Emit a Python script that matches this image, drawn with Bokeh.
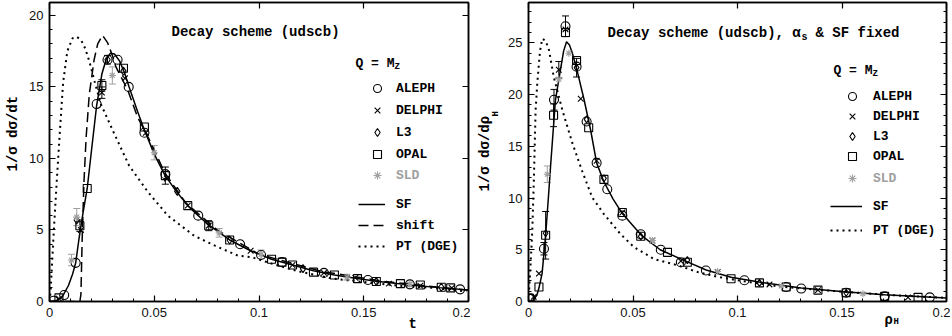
import numpy as np
from bokeh.plotting import figure
from bokeh.layouts import row
from bokeh.models import (Range1d, LinearAxis, FixedTicker, Label, Legend, LegendItem,
                          Whisker, ColumnDataSource, TeeHead, Title)
from bokeh.embed import file_html
from bokeh.resources import INLINE

# ---------------- data: left panel (t) ----------------
t_sf = [0.0, 0.003, 0.006, 0.009, 0.011, 0.0125, 0.014, 0.016, 0.018, 0.020, 0.0225, 0.025, 0.027,
        0.029, 0.031, 0.0335, 0.036, 0.038, 0.042, 0.045, 0.050, 0.055, 0.060, 0.066, 0.071, 0.076,
        0.086, 0.096, 0.106, 0.116, 0.126, 0.136, 0.146, 0.156, 0.166, 0.176, 0.186, 0.2]
y_sf = [0.0, 0.05, 0.3, 1.1, 1.9, 2.7, 4.3, 6.2, 7.9, 10.5, 13.7, 15.9, 16.9,
        17.35, 17.3, 16.8, 15.9, 15.0, 13.3, 12.1, 10.3, 8.85, 7.8, 6.7, 6.0, 5.35,
        4.3, 3.55, 2.95, 2.55, 2.15, 1.85, 1.62, 1.42, 1.25, 1.1, 0.97, 0.8]

t_shift = [0.0, 0.0145, 0.0150, 0.0157, 0.0165, 0.0175, 0.019, 0.0213, 0.023, 0.0253, 0.0277, 0.030,
           0.0317, 0.0345, 0.0373, 0.042, 0.0477, 0.055, 0.065, 0.08, 0.1, 0.13, 0.16, 0.2]
y_shift = [0.0, 0.0, 0.5, 5.0, 8.5, 11.5, 14.5, 16.9, 18.0, 18.6, 18.1, 17.2,
           16.4, 15.6, 14.8, 12.9, 11.3, 9.0, 6.9, 5.0, 3.3, 2.1, 1.4, 0.78]

t_pt = [0.0, 0.0005, 0.002, 0.0035, 0.005, 0.0065, 0.0085, 0.011, 0.013, 0.015, 0.017, 0.019,
        0.0215, 0.0245, 0.031, 0.038, 0.047, 0.0565, 0.069, 0.079, 0.09, 0.0964, 0.106, 0.119,
        0.135, 0.151, 0.167, 0.183, 0.199]
y_pt = [0.0, 0.65, 4.8, 8.5, 12.0, 15.3, 17.5, 18.4, 18.5, 18.3, 17.7, 16.8,
        15.4, 13.8, 11.7, 9.5, 7.65, 6.0, 4.6, 3.9, 3.2, 3.1, 2.65, 2.1,
        1.6, 1.35, 1.1, 0.95, 0.7]

aleph_t = [0.002, 0.007, 0.0125, 0.0225, 0.0277, 0.0325, 0.0378, 0.0453, 0.0553, 0.071, 0.091,
           0.101, 0.111, 0.131, 0.152, 0.172, 0.196]
aleph_y = [0.05, 0.45, 2.7, 13.8, 16.9, 16.9, 15.0, 11.8, 8.9, 6.0, 4.0, 3.25, 2.75, 2.0, 1.5, 1.2, 0.85]
aleph_e = [0, 0, 0, 0, 0.3, 0, 0, 0, 0, 0, 0, 0, 0, 0, 0, 0, 0]

delphi_t = [0.0045, 0.015, 0.025, 0.036, 0.046, 0.056, 0.066, 0.076, 0.096, 0.116, 0.131, 0.146,
            0.162, 0.177, 0.192]
delphi_y = [0.2, 5.0, 14.6, 15.6, 11.8, 8.6, 6.7, 5.3, 3.55, 2.55, 2.0, 1.65, 1.25, 1.1, 0.95]
delphi_e = [0, 0, 0.4, 0, 0, 0, 0, 0, 0, 0, 0, 0, 0, 0, 0]

l3_t = [0.013, 0.0277, 0.0353, 0.061, 0.086, 0.121, 0.156, 0.187]
l3_y = [5.7, 16.9, 16.1, 7.7, 4.3, 2.3, 1.4, 1.0]
l3_e = [0, 0, 0, 0, 0, 0, 0, 0]

opal_t = [0.0045, 0.0145, 0.018, 0.025, 0.0353, 0.0453, 0.0553, 0.066, 0.076, 0.086, 0.106, 0.111,
          0.116, 0.126, 0.136, 0.147, 0.156, 0.1675, 0.177, 0.187, 0.1915]
opal_y = [0.25, 5.3, 7.9, 15.1, 16.3, 12.2, 8.8, 6.7, 5.3, 4.3, 2.95, 2.75,
          2.55, 2.05, 1.85, 1.6, 1.4, 1.25, 1.15, 1.0, 0.95]
opal_e = [0, 0.4, 0, 0.4, 0, 0, 0.6, 0, 0.35, 0, 0, 0, 0, 0, 0, 0, 0, 0, 0, 0, 0]

sld_t = [0.0105, 0.013, 0.030, 0.050, 0.081, 0.101, 0.142, 0.172]
sld_y = [2.9, 5.9, 15.8, 10.4, 4.8, 3.3, 1.7, 1.2]
sld_e = [0.4, 0.6, 0.6, 0.5, 0.3, 0.3, 0.2, 0.15]

# ---------------- data: right panel (rho_H) ----------------
r_sf = [0.0, 0.002, 0.004, 0.005, 0.0065, 0.0082, 0.0095, 0.0106, 0.0129, 0.0153, 0.0168, 0.0182,
        0.0196, 0.021, 0.0234, 0.0266, 0.0297, 0.0326, 0.036, 0.0405, 0.0449, 0.054, 0.063, 0.0741,
        0.085, 0.0969, 0.111, 0.1305, 0.151, 0.1704, 0.2]
ry_sf = [0.0, 0.1, 0.6, 1.3, 2.7, 6.4, 10.0, 13.2, 19.5, 22.4, 24.2, 25.1,
         24.8, 24.0, 22.2, 19.5, 16.6, 13.4, 11.6, 9.9, 8.5, 6.4, 5.0, 4.0,
         3.05, 2.35, 1.85, 1.3, 0.95, 0.65, 0.35]

r_pt = [0.0, 0.0003, 0.001, 0.0018, 0.0026, 0.0034, 0.0042, 0.0055, 0.0066, 0.0082, 0.0098, 0.0121,
        0.0162, 0.021, 0.0257, 0.0305, 0.0361, 0.0441, 0.0505, 0.0601, 0.0713, 0.0809, 0.09, 0.1,
        0.12, 0.15, 0.175, 0.2]
ry_pt = [0.0, 1.1, 3.6, 6.8, 12.0, 18.5, 21.1, 24.2, 25.4, 25.2, 24.3, 21.7,
         18.5, 15.3, 12.6, 10.05, 8.45, 6.5, 5.25, 4.1, 3.5, 2.85, 2.4, 2.05,
         1.45, 0.95, 0.6, 0.35]

aleph_r = [0.001, 0.0074, 0.0122, 0.0177, 0.023, 0.0278, 0.0326, 0.0377, 0.0449, 0.0537, 0.0633,
           0.0729, 0.0849, 0.1033, 0.1233, 0.1305, 0.152, 0.1704, 0.192]
aleph_ry = [0.3, 5.1, 19.5, 26.6, 22.7, 17.4, 13.4, 10.85, 8.3, 6.5, 5.0, 3.8, 3.0, 2.05, 1.4, 1.25,
            0.85, 0.5, 0.4]
aleph_re = [0, 0.6, 1.0, 1.0, 0, 0, 0, 0, 0, 0, 0, 0, 0, 0, 0, 0, 0, 0, 0]

delphi_r = [0.0025, 0.005, 0.0145, 0.0177, 0.025, 0.0326, 0.0449, 0.0593, 0.0729, 0.0905, 0.1153,
            0.1385, 0.1816]
delphi_ry = [0.45, 2.7, 22.4, 26.3, 19.6, 13.6, 8.6, 5.9, 3.9, 2.85, 1.65, 1.1, 0.4]
delphi_re = [0, 0, 0.8, 0, 0, 0, 0, 0, 0, 0, 0, 0, 0]

l3_r = [0.0082, 0.023, 0.0278, 0.0361, 0.0537, 0.076, 0.1105, 0.152]
l3_ry = [6.6, 22.6, 17.6, 11.9, 6.3, 4.0, 1.8, 0.85]
l3_re = [0, 0.9, 0, 0, 0, 0, 0, 0]

opal_r = [0.0005, 0.005, 0.0082, 0.012, 0.0177, 0.023, 0.0288, 0.0361, 0.0449, 0.0537, 0.0665,
          0.076, 0.0969, 0.1105, 0.1233, 0.1385, 0.152, 0.1704, 0.1864]
opal_ry = [0.3, 1.4, 6.4, 18.0, 26.0, 23.3, 16.8, 11.8, 8.6, 6.3, 4.75, 3.8, 2.2, 1.8, 1.4, 1.1,
           0.85, 0.5, 0.4]
opal_re = [0, 0, 2.3, 1.1, 0, 0, 0, 0, 0, 0, 0, 0, 0, 0, 0, 0, 0, 0, 0]

sld_r = [0.009, 0.0145, 0.0193, 0.0593, 0.0905, 0.121, 0.16]
sld_ry = [12.3, 21.5, 24.0, 5.9, 2.9, 1.5, 0.75]
sld_re = [0.8, 0, 0, 0, 0, 0, 0]

x_ticks = [0, 0.05, 0.1, 0.15, 0.2]
x_tick_labels = ["0", "0.05", "0.1", "0.15", "0.2"]

MONO = "Liberation Mono"
SANS = "Liberation Sans"
GREY = "#a0a0a0"


def style_axis(ax, labels=True, minor=True):
    ax.major_tick_in = 6
    ax.major_tick_out = 0
    ax.minor_tick_in = 3 if minor else 0
    ax.minor_tick_out = 0
    ax.axis_line_width = 1.5
    ax.major_tick_line_width = 1.2
    ax.minor_tick_line_width = 1.0
    if labels:
        ax.major_label_text_font = SANS
        ax.major_label_text_font_size = "13px"
        ax.major_label_text_color = "#111111"
        ax.major_label_standoff = 6
    else:
        ax.major_label_text_font_size = "0px"
        ax.major_label_text_color = None
        ax.major_label_standoff = 0


def make_panel(width, ymax, bl, br, bb, ymajor):
    p = figure(width=width, height=336, x_range=Range1d(0, 0.2), y_range=Range1d(0, ymax),
               output_backend="svg", toolbar_location=None, x_axis_type=None, y_axis_type=None,
               min_border_left=bl, min_border_right=br, min_border_top=2, min_border_bottom=bb)
    p.grid.visible = False
    p.outline_line_color = "black"
    p.outline_line_width = 1.5
    xt = FixedTicker(ticks=x_ticks, minor_ticks=list(np.round(np.arange(0, 0.2001, 0.01), 3)))
    yt = FixedTicker(ticks=list(range(0, int(ymax) + 1, ymajor)),
                     minor_ticks=list(range(0, int(ymax) + 1)))
    xb = LinearAxis(ticker=xt, major_label_overrides=dict(zip(x_ticks, x_tick_labels)))
    style_axis(xb)
    p.add_layout(xb, "below")
    yl = LinearAxis(ticker=yt)
    style_axis(yl)
    p.add_layout(yl, "left")
    xa = LinearAxis(ticker=FixedTicker(ticks=x_ticks))
    style_axis(xa, labels=False, minor=False)
    p.add_layout(xa, "above")
    return p, yt


def add_points(p, xs, ys, es, marker, size, color="black"):
    r = p.scatter(xs, ys, marker=marker, size=size, fill_color=None, line_color=color,
                  line_width=1.1)
    xe = [x for x, e in zip(xs, es) if e > 0]
    ye = [y for y, e in zip(ys, es) if e > 0]
    ee = [e for e in es if e > 0]
    if xe:
        src = ColumnDataSource(dict(x=xe, lo=[y - e for y, e in zip(ye, ee)],
                                    hi=[y + e for y, e in zip(ye, ee)]))
        p.add_layout(Whisker(source=src, base="x", upper="hi", lower="lo", dimension="height",
                             line_color=color, line_width=1,
                             upper_head=TeeHead(size=7, line_color=color, line_width=1),
                             lower_head=TeeHead(size=7, line_color=color, line_width=1)))
    return r


def legend(p, items, loc, gw, standoff, spacing, color="black"):
    lg = Legend(items=items, location=loc, orientation="vertical", glyph_width=gw,
                glyph_height=20, label_height=20, label_standoff=standoff, spacing=spacing,
                padding=0, margin=0, border_line_color=None, background_fill_alpha=0,
                label_text_font=MONO, label_text_font_style="bold",
                label_text_font_size="13px", label_text_color=color)
    p.add_layout(lg)


def text(p, x, y, s, size="14px", color="black"):
    p.add_layout(Label(x=x, y=y, text=s, text_font=MONO, text_font_style="bold",
                       text_font_size=size, text_align="left",
                       text_baseline="middle", text_color=color))


def side_title(p, place, s, offset, standoff, valign, size="14px"):
    p.add_layout(Title(text=s, align="left", offset=offset, standoff=standoff,
                       vertical_align=valign, text_font=MONO, text_font_style="bold",
                       text_font_size=size, text_color="black"), place)


# ================= left panel =================
p1, yt1 = make_panel(470, 20.9, 49, 2, 35, 5)
ya1 = LinearAxis(ticker=FixedTicker(ticks=yt1.ticks))
style_axis(ya1, labels=False, minor=False)
p1.add_layout(ya1, "right")

X1 = lambda px: (px - 49) / 2095.0
Y1 = lambda py: (301 - py) / 14.3

pt1 = p1.line(t_pt, y_pt, line_color="black", line_width=2, line_dash="2 4")
sh1 = p1.line(t_shift, y_shift, line_color="black", line_width=1.5, line_dash="10 5")
sf1 = p1.line(t_sf, y_sf, line_color="black", line_width=1.5)

ra = add_points(p1, aleph_t, aleph_y, aleph_e, "circle", 9)
rd = add_points(p1, delphi_t, delphi_y, delphi_e, "x", 8)
rl = add_points(p1, l3_t, l3_y, l3_e, "diamond", 8)
ro = add_points(p1, opal_t, opal_y, opal_e, "square", 8)
rs = add_points(p1, sld_t, sld_y, sld_e, "asterisk", 7, GREY)

legend(p1, [LegendItem(label="ALEPH", renderers=[ra]), LegendItem(label="DELPHI", renderers=[rd]),
            LegendItem(label="L3", renderers=[rl]), LegendItem(label="OPAL", renderers=[ro])],
       (318, 137), 20, 9, 2)
legend(p1, [LegendItem(label="SLD", renderers=[rs])], (318, 116), 20, 9, 2, GREY)
legend(p1, [LegendItem(label="SF", renderers=[sf1]), LegendItem(label="shift", renderers=[sh1]),
            LegendItem(label="PT (DGE)", renderers=[pt1])], (309, 45), 27, 11, 1)

text(p1, X1(171), Y1(32), "Decay scheme (udscb)")
text(p1, X1(355), Y1(63), "Q = M", size="13px")
text(p1, X1(394), Y1(67), "Z", size="9px")

side_title(p1, "below", "t", 359, -9, "middle")
side_title(p1, "left", "1/σ dσ/dt", 130, 8, "top")

# ================= right panel =================
p2, yt2 = make_panel(480, 28.9, 58, 4, 33, 5)
ya2 = LinearAxis(ticker=yt2)
style_axis(ya2, labels=False, minor=True)
p2.add_layout(ya2, "right")

X2 = lambda px: (px - 528) / 2090.0
Y2 = lambda py: (303 - py) / 10.42

pt2 = p2.line(r_pt, ry_pt, line_color="black", line_width=2, line_dash="2 4")
sf2 = p2.line(r_sf, ry_sf, line_color="black", line_width=1.5)

ra2 = add_points(p2, aleph_r, aleph_ry, aleph_re, "circle", 9)
rd2 = add_points(p2, delphi_r, delphi_ry, delphi_re, "x", 8)
rl2 = add_points(p2, l3_r, l3_ry, l3_re, "diamond", 7)
ro2 = add_points(p2, opal_r, opal_ry, opal_re, "square", 8)
rs2 = add_points(p2, sld_r, sld_ry, sld_re, "asterisk", 7, GREY)

legend(p2, [LegendItem(label="ALEPH", renderers=[ra2]), LegendItem(label="DELPHI", renderers=[rd2]),
            LegendItem(label="L3", renderers=[rl2]), LegendItem(label="OPAL", renderers=[ro2])],
       (314, 135), 20, 11, 0)
legend(p2, [LegendItem(label="SLD", renderers=[rs2])], (314, 113), 20, 11, 0, GREY)
legend(p2, [LegendItem(label="SF", renderers=[sf2]), LegendItem(label="PT (DGE)", renderers=[pt2])],
       (302, 61), 32, 11, 4)

text(p2, X2(607), Y2(33), "Decay scheme (udscb), α")
text(p2, X2(801), Y2(37), "s", size="10px")
text(p2, X2(815), Y2(33), "& SF fixed")
text(p2, X2(833), Y2(70), "Q = M", size="13px")
text(p2, X2(872), Y2(74), "Z", size="9px")

side_title(p2, "below", "ρ", 356, -17, "middle")
side_title(p2, "below", "H", 365, -9, "middle", size="9px")
side_title(p2, "left", "H", 185, 6, "top", size="9px")
side_title(p2, "left", "1/σ dσ/dρ", 110, -14, "top")

layout = row(p1, p2)
open("out.html", "w").write(file_html(layout, INLINE))
